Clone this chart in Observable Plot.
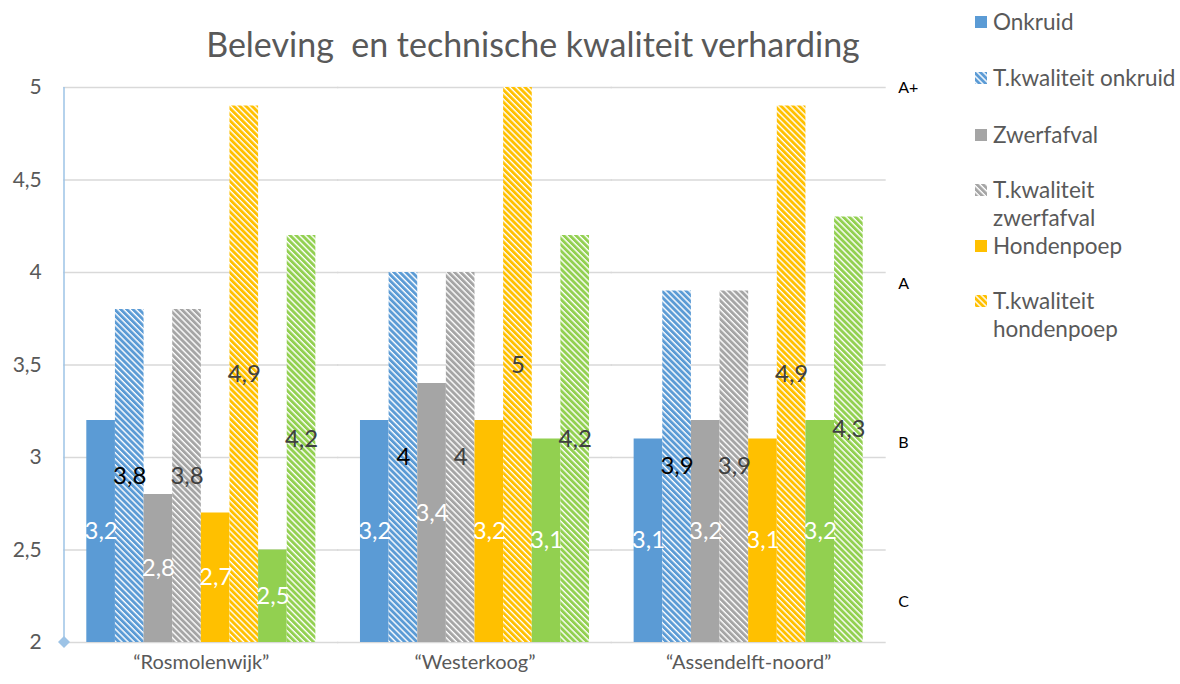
<!DOCTYPE html>
<html><head><meta charset="utf-8">
<script src="https://cdn.jsdelivr.net/npm/d3@7"></script>
<script src="https://cdn.jsdelivr.net/npm/@observablehq/plot@0.6"></script>
<style>body{margin:0;background:#fff}#chart{position:relative;width:1180px;height:684px}</style>
</head><body><div id="chart"></div>
<script>
const title = "Beleving  en technische kwaliteit verharding";
const categories = ["“Rosmolenwijk”", "“Westerkoog”", "“Assendelft-noord”"];
const seriesNames = ["Onkruid", "T.kwaliteit onkruid", "Zwerfafval", "T.kwaliteit zwerfafval", "Hondenpoep", "T.kwaliteit hondenpoep", "Verharding", "T.kwaliteit verharding"];
const legendNames = ["Onkruid", "T.kwaliteit onkruid", "Zwerfafval", "T.kwaliteit zwerfafval", "Hondenpoep", "T.kwaliteit hondenpoep"];
const onkruid = [3.2, 3.2, 3.1];
const tkOnkruid = [3.8, 4, 3.9];
const zwerfafval = [2.8, 3.4, 3.2];
const tkZwerfafval = [3.8, 4, 3.9];
const hondenpoep = [2.7, 3.2, 3.1];
const tkHondenpoep = [4.9, 5, 4.9];
const verharding = [2.5, 3.1, 3.2];
const tkVerharding = [4.2, 4.2, 4.3];
const yTicks = [2, 2.5, 3, 3.5, 4, 4.5, 5];
const gradeLabels = ["A+", "A", "B", "C"];
const gradeValues = [5, 3.94, 3.08, 2.22];

const values = [onkruid, tkOnkruid, zwerfafval, tkZwerfafval, hondenpoep, tkHondenpoep, verharding, tkVerharding];
const colors = ["#5B9BD5", "#5B9BD5", "#A5A5A5", "#A5A5A5", "#FFC000", "#FFC000", "#92D050", "#92D050"];
const hatched = [false, true, false, true, false, true, false, true];
const labelColors = ["#ffffff", "#000000", "#ffffff", "#404040", "#ffffff", "#404040", "#ffffff", "#404040"];
const font = "Lato, 'Open Sans', sans-serif";
const textColor = "#595959";

const rows = seriesNames.flatMap((s, k) => categories.map((c, i) => ({category: c, series: s, value: values[k][i], k})));
const fillOf = k => hatched[k] ? `url(#hatch-${k})` : colors[k];
const fmt = v => String(v).replace(".", ",");
const yMin = yTicks[0];

const plot = Plot.plot({
  width: 1180, height: 684,
  marginLeft: 64, marginRight: 295, marginTop: 87, marginBottom: 42,
  style: {fontFamily: font, background: "white", color: textColor, overflow: "visible"},
  fx: {domain: categories, paddingInner: 0.163, paddingOuter: 0.0815, round: false, label: null},
  x: {domain: seriesNames, padding: 0, round: false, axis: null},
  y: {domain: [2, 5], label: null},
  marks: [
    Plot.ruleY(yTicks, {stroke: "#d9d9d9", strokeWidth: 1.5, insetLeft: -23, insetRight: -23}),
    ...seriesNames.map((s, k) => Plot.barY(rows.filter(r => r.k === k), {
      fx: "category", x: "series", y1: yMin, y2: "value", fill: fillOf(k)
    })),
    ...seriesNames.map((s, k) => Plot.text(rows.filter(r => r.k === k), {
      fx: "category", x: "series", y: d => (yMin + d.value) / 2, text: d => fmt(d.value),
      fill: labelColors[k], fontSize: 24
    })),
    Plot.axisY({anchor: "left", ticks: yTicks, tickFormat: fmt, tickSize: 0, tickPadding: 45, fontSize: 21, color: textColor, label: null}),
    Plot.axisY({anchor: "right", ticks: gradeValues, tickFormat: d => gradeLabels[gradeValues.indexOf(d)], tickSize: 0, tickPadding: 35, fontSize: 16, color: "#000000", textAnchor: "start", label: null}),
    Plot.axisFx({anchor: "bottom", tickSize: 0, tickPadding: 12, fontSize: 20, color: textColor, label: null})
  ]
});
document.getElementById("chart").append(plot);

const svg = d3.select(plot);
const defs = svg.insert("defs", ":first-child");
colors.forEach((c, k) => {
  if (!hatched[k]) return;
  const p = defs.append("pattern").attr("id", `hatch-${k}`).attr("patternUnits", "userSpaceOnUse")
    .attr("width", 4.3).attr("height", 10).attr("patternTransform", "rotate(-45)");
  p.append("rect").attr("width", 4.3).attr("height", 10).attr("fill", "#ffffff");
  p.append("rect").attr("width", 2.9).attr("height", 10).attr("fill", c);
});

// left axis line with diamond
const ys = plot.scale("y");
const x0 = 64;
svg.append("line").attr("x1", x0).attr("x2", x0).attr("y1", ys.apply(5)).attr("y2", ys.apply(2))
  .attr("stroke", "#9DC3E6").attr("stroke-width", 1.5);
svg.append("path").attr("d", "M0,-6L6,0L0,6L-6,0Z").attr("transform", `translate(${x0},${ys.apply(2)})`).attr("fill", "#9DC3E6");

// title
svg.append("text").attr("x", 533).attr("y", 57).attr("text-anchor", "middle")
  .attr("font-family", font).attr("font-size", 34).attr("fill", textColor).text(title);

// legend
const legendY = [22, 78, 135, 190, 246, 301];
const legendLines = [["Onkruid"], ["T.kwaliteit onkruid"], ["Zwerfafval"], ["T.kwaliteit", "zwerfafval"], ["Hondenpoep"], ["T.kwaliteit", "hondenpoep"]];
const lg = svg.append("g").attr("font-family", font).attr("font-size", 22.5).attr("fill", textColor).attr("text-anchor", "start");
legendNames.forEach((name, k) => {
  const y = legendY[k];
  lg.append("rect").attr("x", 975).attr("y", y - 6).attr("width", 12).attr("height", 12).attr("fill", fillOf(k));
  const t = lg.append("text").attr("x", 993).attr("y", y);
  legendLines[k].forEach((line, j) => t.append("tspan").attr("x", 993).attr("dy", j === 0 ? "0.35em" : "28px").text(line));
});
</script>
</body></html>
